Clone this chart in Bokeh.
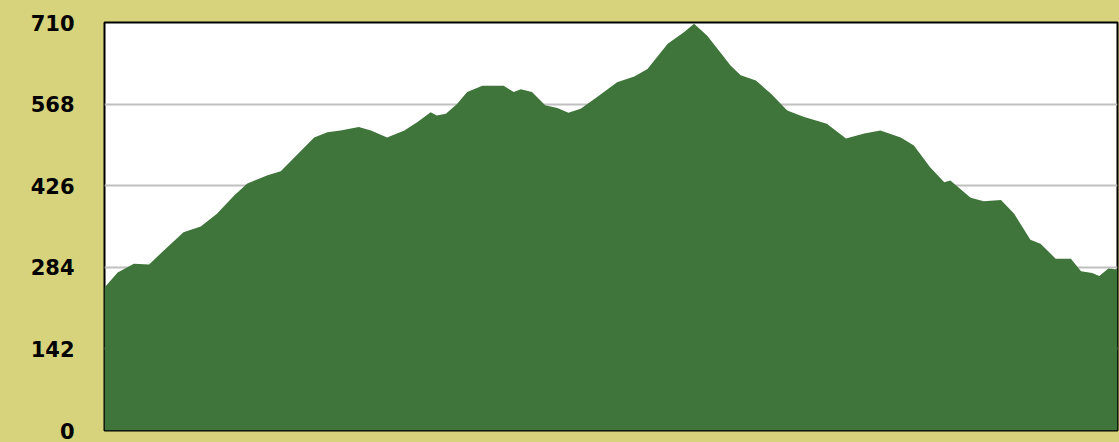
from bokeh.plotting import figure
from bokeh.models import Range1d, FixedTicker
from bokeh.embed import file_html
from bokeh.resources import INLINE

# Distance along route (arbitrary units, 0..100) and elevation values
distance = [0.0, 1.3, 2.9, 4.4, 6.2, 7.8, 9.5, 11.1, 12.8, 14.1, 16.1, 17.4, 19.4, 20.7,
            22.0, 23.3, 25.1, 26.3, 27.9, 29.6, 30.9, 32.2, 32.8, 33.7, 34.8, 35.8, 37.3,
            39.4, 40.4, 41.1, 42.2, 43.5, 44.7, 45.8, 47.0, 48.6, 50.6, 52.3, 53.6, 55.6,
            57.2, 58.2, 59.5, 60.8, 61.8, 62.8, 64.3, 65.8, 67.4, 69.0, 71.3, 73.2, 75.0,
            76.6, 78.6, 79.9, 81.5, 82.9, 83.5, 85.5, 86.8, 88.5, 89.8, 91.4, 92.4, 93.9,
            95.4, 96.4, 97.5, 98.2, 99.1, 100.0]
elevation = [249, 275, 290, 289, 319, 345, 355, 377, 409, 430, 444, 451, 487, 510,
             519, 522, 528, 522, 510, 522, 537, 554, 548, 551, 568, 589, 600,
             600, 589, 594, 589, 566, 561, 553, 560, 580, 606, 616, 629, 673,
             693, 708, 687, 658, 635, 618, 609, 586, 557, 546, 534, 508, 517,
             522, 510, 496, 458, 432, 435, 405, 399, 401, 377, 332, 325, 299,
             299, 277, 274, 269, 282, 280]
y_ticks = [0, 142, 284, 426, 568, 710]

KHAKI = "#d6d37c"
GREEN = "#3f753a"

p = figure(width=1119, height=442, output_backend="svg", toolbar_location=None,
           x_range=Range1d(0, 100), y_range=Range1d(0, 710),
           min_border_left=104, min_border_right=2, min_border_top=22, min_border_bottom=12)
p.background_fill_color = "white"
p.border_fill_color = KHAKI
p.outline_line_color = "black"
p.outline_line_width = 2

p.varea(x=distance, y1=0, y2=elevation, fill_color=GREEN, fill_alpha=1.0)

p.xaxis.visible = False
p.xgrid.visible = False
p.yaxis.ticker = FixedTicker(ticks=y_ticks)
p.yaxis.axis_line_color = None
p.yaxis.major_tick_line_color = None
p.yaxis.minor_tick_line_color = None
p.yaxis.major_tick_out = 0
p.yaxis.major_tick_in = 0
p.yaxis.major_label_standoff = 30
p.yaxis.major_label_text_font = "DejaVu Sans"
p.yaxis.major_label_text_font_style = "bold"
p.yaxis.major_label_text_font_size = "21px"
p.yaxis.major_label_text_color = "black"
p.ygrid.grid_line_color = "#c0c0c0"
p.ygrid.grid_line_width = 2

html = file_html(p, INLINE)
html = html.replace("<head>", "<head><style>html,body{background:%s;}</style>" % KHAKI, 1)
open("out.html", "w").write(html)
